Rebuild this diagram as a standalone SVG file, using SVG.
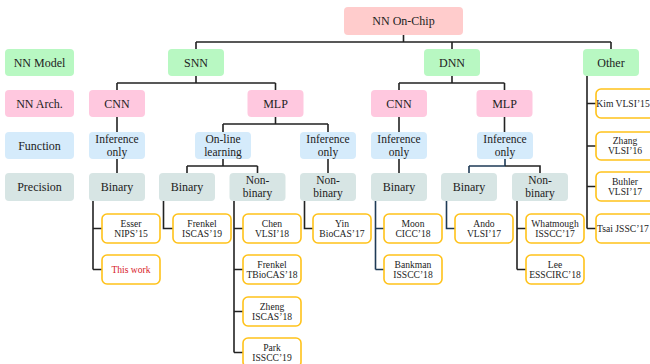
<svg xmlns="http://www.w3.org/2000/svg" width="650" height="364" viewBox="0 0 650 364" font-family="'Liberation Serif', 'DejaVu Serif', serif">
  <style>
    text { font-family: "Liberation Serif", "DejaVu Serif", serif; fill: #222; text-anchor: middle; }
    .t { font-size: 12px; }
    .t2 { font-size: 11.5px; }
    .s { font-size: 9.6px; }
    .root { fill: #ffcccc; }
    .model { fill: #b8f8c2; }
    .arch { fill: #ffc8df; }
    .func { fill: #d5ebfb; }
    .prec { fill: #d7e5e4; }
    .leaf { fill: #ffffff; stroke: #ffc21a; stroke-width: 1.6; }
    .red { fill: #d8222a; }
    .ln { fill: none; stroke: #222; stroke-width: 1.6; }
    .nv { fill: none; stroke: #1e3a56; stroke-width: 1.6; }
  </style>

  <!-- connectors -->
  <g id="connectors">
    <!-- root to models -->
    <path class="ln" d="M403.5,35 V42 M196,42 H611 M196,42 V49 M452,42 V49 M611,42 V49"/>
    <!-- SNN to architectures -->
    <path class="ln" d="M196,76 V83 M117,83 H275.5 M117,83 V90 M275.5,83 V90"/>
    <!-- DNN to architectures -->
    <path class="ln" d="M452,76 V83 M399,83 H504.5 M399,83 V90 M504.5,83 V90"/>
    <!-- Other to its works -->
    <path class="ln" d="M587,76 V228.5 M587,103.5 H596 M587,146 H596 M587,186.5 H596 M587,228.5 H596"/>
    <!-- SNN / CNN branch -->
    <path class="ln" d="M117,117 V132 M117,159 V173"/>
    <!-- SNN / MLP branch -->
    <path class="ln" d="M275.5,117 V124 M223,124 H328 M223,124 V132 M328,124 V132"/>
    <path class="ln" d="M223,159 V166 M187,166 H257.5 M187,166 V173 M257.5,166 V173"/>
    <path class="ln" d="M328,159 V173"/>
    <!-- DNN / CNN branch -->
    <path class="ln" d="M399,117 V132 M399,159 V173"/>
    <!-- DNN / MLP branch -->
    <path class="ln" d="M504.5,117 V132"/>
    <path class="nv" d="M505,159 V166 M469,166 H505 M469,166 V173"/>
    <path class="ln" d="M505,166 H540 V173"/>
    <!-- precision to works -->
    <path class="ln" d="M93,201 V269.5 M93,228.5 H102 M93,269.5 H102"/>
    <path class="ln" d="M163.5,201 V228.5 H173"/>
    <path class="ln" d="M234,201 V352.5 M234,228.5 H243 M234,269.5 H243 M234,311.5 H243 M234,352.5 H243"/>
    <path class="ln" d="M304.5,201 V228.5 H313"/>
    <path class="nv" d="M375.5,201 V269.5 M375.5,228.5 H384 M375.5,269.5 H384"/>
    <path class="nv" d="M446.5,201 V228.5 H455"/>
    <path class="ln" d="M517,201 V269.5 M517,228.5 H526 M517,269.5 H526"/>
  </g>

  <!-- category legend -->
  <g id="legend-model"><rect class="model" x="5" y="49" width="69" height="27" rx="4"/><text class="t" x="39.5" y="66.5">NN Model</text></g>
  <g id="legend-arch"><rect class="arch" x="5" y="90" width="69" height="27" rx="4"/><text class="t" x="39.5" y="107.5">NN Arch.</text></g>
  <g id="legend-function"><rect class="func" x="5" y="132" width="69" height="27" rx="4"/><text class="t" x="39.5" y="149.5">Function</text></g>
  <g id="legend-precision"><rect class="prec" x="5" y="173" width="69" height="28" rx="4"/><text class="t" x="39.5" y="191">Precision</text></g>

  <!-- root -->
  <g id="nn-on-chip"><rect class="root" x="344" y="7" width="119" height="28" rx="4"/><text class="t" x="403.5" y="25">NN On-Chip</text></g>

  <!-- models -->
  <g id="snn"><rect class="model" x="168" y="49" width="56" height="27" rx="4"/><text class="t" x="196" y="66.5">SNN</text></g>
  <g id="dnn"><rect class="model" x="424" y="49" width="56" height="27" rx="4"/><text class="t" x="452" y="66.5">DNN</text></g>
  <g id="other"><rect class="model" x="583" y="49" width="56" height="27" rx="4"/><text class="t" x="611" y="66.5">Other</text></g>

  <!-- architectures -->
  <g id="snn-cnn"><rect class="arch" x="89" y="90" width="56" height="27" rx="4"/><text class="t" x="117" y="107.5">CNN</text></g>
  <g id="snn-mlp"><rect class="arch" x="247.5" y="90" width="56" height="27" rx="4"/><text class="t" x="275.5" y="107.5">MLP</text></g>
  <g id="dnn-cnn"><rect class="arch" x="371" y="90" width="56" height="27" rx="4"/><text class="t" x="399" y="107.5">CNN</text></g>
  <g id="dnn-mlp"><rect class="arch" x="476.5" y="90" width="56" height="27" rx="4"/><text class="t" x="504.5" y="107.5">MLP</text></g>

  <!-- functions -->
  <g id="snn-cnn-inference"><rect class="func" x="89" y="132" width="56" height="27" rx="4"/><text class="t2" x="117" y="142.5">Inference<tspan x="117" y="155.5">only</tspan></text></g>
  <g id="snn-mlp-online"><rect class="func" x="195" y="132" width="56" height="27" rx="4"/><text class="t2" x="223" y="142.5">On-line<tspan x="223" y="155.5">learning</tspan></text></g>
  <g id="snn-mlp-inference"><rect class="func" x="300" y="132" width="56" height="27" rx="4"/><text class="t2" x="328" y="142.5">Inference<tspan x="328" y="155.5">only</tspan></text></g>
  <g id="dnn-cnn-inference"><rect class="func" x="371" y="132" width="56" height="27" rx="4"/><text class="t2" x="399" y="142.5">Inference<tspan x="399" y="155.5">only</tspan></text></g>
  <g id="dnn-mlp-inference"><rect class="func" x="477" y="132" width="56" height="27" rx="4"/><text class="t2" x="505" y="142.5">Inference<tspan x="505" y="155.5">only</tspan></text></g>

  <!-- precisions -->
  <g id="snn-cnn-binary"><rect class="prec" x="89" y="173" width="56" height="28" rx="4"/><text class="t" x="117" y="191">Binary</text></g>
  <g id="snn-online-binary"><rect class="prec" x="159" y="173" width="56" height="28" rx="4"/><text class="t" x="187" y="191">Binary</text></g>
  <g id="snn-online-nonbinary"><rect class="prec" x="229.5" y="173" width="56" height="28" rx="4"/><text class="t2" x="257.5" y="184">Non-<tspan x="257.5" y="197">binary</tspan></text></g>
  <g id="snn-mlp-nonbinary"><rect class="prec" x="300" y="173" width="56" height="28" rx="4"/><text class="t2" x="328" y="184">Non-<tspan x="328" y="197">binary</tspan></text></g>
  <g id="dnn-cnn-binary"><rect class="prec" x="371" y="173" width="56" height="28" rx="4"/><text class="t" x="399" y="191">Binary</text></g>
  <g id="dnn-mlp-binary"><rect class="prec" x="441" y="173" width="56" height="28" rx="4"/><text class="t" x="469" y="191">Binary</text></g>
  <g id="dnn-mlp-nonbinary"><rect class="prec" x="512" y="173" width="56" height="28" rx="4"/><text class="t2" x="540" y="184">Non-<tspan x="540" y="197">binary</tspan></text></g>

  <!-- published works -->
  <g id="esser"><rect class="leaf" x="102" y="214" width="58" height="29" rx="5"/><text class="s" x="131" y="226.5">Esser<tspan x="131" y="236.5">NIPS’15</tspan></text></g>
  <g id="this-work"><rect class="leaf" x="102" y="255" width="58" height="29" rx="5"/><text class="s red" x="131" y="273">This work</text></g>
  <g id="frenkel-iscas"><rect class="leaf" x="173" y="214" width="58" height="29" rx="5"/><text class="s" x="202" y="226.5">Frenkel<tspan x="202" y="236.5">ISCAS’19</tspan></text></g>
  <g id="chen"><rect class="leaf" x="243" y="214" width="58" height="29" rx="5"/><text class="s" x="272" y="226.5">Chen<tspan x="272" y="236.5">VLSI’18</tspan></text></g>
  <g id="frenkel-tbiocas"><rect class="leaf" x="243" y="255" width="58" height="29" rx="5"/><text class="s" x="272" y="267.5">Frenkel<tspan x="272" y="277.5">TBioCAS’18</tspan></text></g>
  <g id="zheng"><rect class="leaf" x="243" y="297" width="58" height="29" rx="5"/><text class="s" x="272" y="309.5">Zheng<tspan x="272" y="319.5">ISCAS’18</tspan></text></g>
  <g id="park"><rect class="leaf" x="243" y="338" width="58" height="29" rx="5"/><text class="s" x="272" y="350.5">Park<tspan x="272" y="360.5">ISSCC’19</tspan></text></g>
  <g id="yin"><rect class="leaf" x="313" y="214" width="58" height="29" rx="5"/><text class="s" x="342" y="226.5">Yin<tspan x="342" y="236.5">BioCAS’17</tspan></text></g>
  <g id="moon"><rect class="leaf" x="384" y="214" width="58" height="29" rx="5"/><text class="s" x="413" y="226.5">Moon<tspan x="413" y="236.5">CICC’18</tspan></text></g>
  <g id="bankman"><rect class="leaf" x="384" y="255" width="58" height="29" rx="5"/><text class="s" x="413" y="267.5">Bankman<tspan x="413" y="277.5">ISSCC’18</tspan></text></g>
  <g id="ando"><rect class="leaf" x="455" y="214" width="58" height="29" rx="5"/><text class="s" x="484" y="226.5">Ando<tspan x="484" y="236.5">VLSI’17</tspan></text></g>
  <g id="whatmough"><rect class="leaf" x="526" y="214" width="58" height="29" rx="5"/><text class="s" x="555" y="226.5">Whatmough<tspan x="555" y="236.5">ISSCC’17</tspan></text></g>
  <g id="lee"><rect class="leaf" x="526" y="255" width="58" height="29" rx="5"/><text class="s" x="555" y="267.5">Lee<tspan x="555" y="277.5">ESSCIRC’18</tspan></text></g>
  <g id="kim"><rect class="leaf" x="596" y="89" width="60" height="29" rx="5"/><text class="s" x="623" y="107">Kim VLSI’15</text></g>
  <g id="zhang"><rect class="leaf" x="596" y="132" width="60" height="28" rx="5"/><text class="s" x="625" y="143.5">Zhang<tspan x="625" y="153.5">VLSI’16</tspan></text></g>
  <g id="buhler"><rect class="leaf" x="596" y="172" width="60" height="29" rx="5"/><text class="s" x="625" y="184.5">Buhler<tspan x="625" y="194.5">VLSI’17</tspan></text></g>
  <g id="tsai"><rect class="leaf" x="596" y="214" width="60" height="29" rx="5"/><text class="s" x="623" y="232">Tsai JSSC’17</text></g>
</svg>
